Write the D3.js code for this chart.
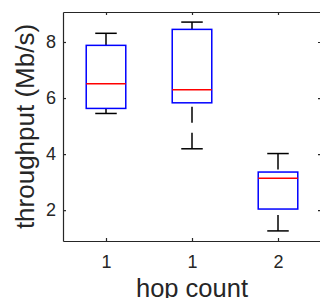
<!DOCTYPE html>
<html>
<head>
<meta charset="utf-8">
<script src="https://cdn.jsdelivr.net/npm/d3@7"></script>
<style>
  body { margin: 0; background: #fff; overflow: hidden; }
  text { font-family: "Liberation Sans", Arial, sans-serif; fill: #262626; }
</style>
</head>
<body>
<div id="chart"></div>
<script>
// box plot values
const categories = ["1", "1", "2"];
const lowerWhisker = [5.45, 4.19, 1.26];
const q1 = [5.63, 5.83, 2.04];
const median = [6.51, 6.30, 3.14];
const q3 = [7.88, 8.45, 3.36];
const upperWhisker = [8.31, 8.71, 4.02];
const yTicks = [2, 4, 6, 8];

const width = 320, height = 298;
const margin = { top: 12, right: -1, bottom: 57, left: 63 };

const svg = d3.select("#chart").append("svg")
    .attr("width", width)
    .attr("height", height);

const x = d3.scaleLinear()
    .domain([0.5, categories.length + 0.5])
    .range([margin.left, width - margin.right]);

const y = d3.scaleLinear()
    .domain([0.9, 9.07])
    .range([height - margin.bottom, margin.top]);

const boxes = categories.map((c, i) => ({
    pos: i + 1, lo: lowerWhisker[i], q1: q1[i], med: median[i], q3: q3[i], hi: upperWhisker[i]
}));

const boxHalf = 0.23, capHalf = 0.125;

// axes (MATLAB style box with inward ticks)
const axisColor = "#262626";
const xAxis = d3.axisBottom(x).tickValues(boxes.map(b => b.pos))
    .tickFormat((d, i) => categories[i]).tickSizeInner(-3).tickSizeOuter(0).tickPadding(14);
const xAxisTop = d3.axisTop(x).tickValues(boxes.map(b => b.pos))
    .tickFormat("").tickSizeInner(-3).tickSizeOuter(0);
const yAxis = d3.axisLeft(y).tickValues(yTicks).tickSizeInner(-3).tickSizeOuter(0).tickPadding(7);
const yAxisRight = d3.axisRight(y).tickValues(yTicks).tickFormat("").tickSizeInner(-3).tickSizeOuter(0);

svg.append("g").attr("transform", "translate(0," + y.range()[0] + ")").call(xAxis);
svg.append("g").attr("transform", "translate(0," + y.range()[1] + ")").call(xAxisTop);
svg.append("g").attr("transform", "translate(" + x.range()[0] + ",0)").call(yAxis);
svg.append("g").attr("transform", "translate(" + x.range()[1] + ",0)").call(yAxisRight);

svg.selectAll(".domain, .tick line").attr("stroke", axisColor).attr("stroke-width", 1.2);
svg.selectAll(".tick text").attr("font-size", 18).attr("fill", axisColor)
    .style("font-family", "'Liberation Sans', Arial, sans-serif");

// whiskers, drawn from the cap toward the box
const g = svg.append("g");
g.selectAll(".whiskerHi").data(boxes).enter().append("line")
    .attr("x1", d => x(d.pos)).attr("x2", d => x(d.pos))
    .attr("y1", d => y(d.hi)).attr("y2", d => y(d.q3))
    .attr("stroke", "#000").attr("stroke-width", 1.5).attr("stroke-dasharray", "16,10");
g.selectAll(".whiskerLo").data(boxes).enter().append("line")
    .attr("x1", d => x(d.pos)).attr("x2", d => x(d.pos))
    .attr("y1", d => y(d.lo)).attr("y2", d => y(d.q1))
    .attr("stroke", "#000").attr("stroke-width", 1.5).attr("stroke-dasharray", "16,10");

// caps
["hi", "lo"].forEach(k => {
    g.selectAll(".cap" + k).data(boxes).enter().append("line")
        .attr("x1", d => x(d.pos - capHalf)).attr("x2", d => x(d.pos + capHalf))
        .attr("y1", d => y(d[k])).attr("y2", d => y(d[k]))
        .attr("stroke", "#000").attr("stroke-width", 1.5);
});

// boxes
g.selectAll("rect").data(boxes).enter().append("rect")
    .attr("x", d => x(d.pos - boxHalf))
    .attr("width", d => x(d.pos + boxHalf) - x(d.pos - boxHalf))
    .attr("y", d => y(d.q3))
    .attr("height", d => y(d.q1) - y(d.q3))
    .attr("fill", "none").attr("stroke", "#0000ff").attr("stroke-width", 1.5);

// medians
g.selectAll(".med").data(boxes).enter().append("line")
    .attr("x1", d => x(d.pos - boxHalf)).attr("x2", d => x(d.pos + boxHalf))
    .attr("y1", d => y(d.med)).attr("y2", d => y(d.med))
    .attr("stroke", "#ff0000").attr("stroke-width", 1.5);

// axis labels
svg.append("text")
    .attr("x", (x.range()[0] + x.range()[1]) / 2)
    .attr("y", 297)
    .attr("text-anchor", "middle")
    .attr("font-size", 25.5)
    .text("hop count");

svg.append("text")
    .attr("transform", "translate(34," + (y.range()[0] + y.range()[1]) / 2 + ") rotate(-90)")
    .attr("text-anchor", "middle")
    .attr("font-size", 26)
    .text("throughput (Mb/s)");
</script>
</body>
</html>
